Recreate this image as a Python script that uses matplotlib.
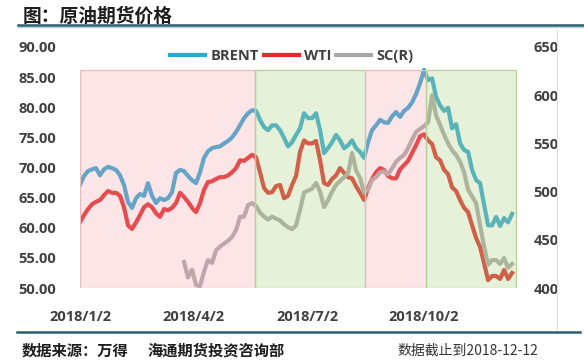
import numpy as np
import pandas as pd
import matplotlib
matplotlib.use("Agg")
import matplotlib.pyplot as plt
from matplotlib.lines import Line2D
from matplotlib.colors import to_rgba
from matplotlib.ticker import FuncFormatter

plt.rcParams['font.family'] = ['Open Sans', 'Noto Sans CJK SC', 'DejaVu Sans']
plt.rcParams['font.weight'] = 'bold'

# ---------------- data ----------------
start_date = "2018-01-02"
step_days = 3.177          # spacing of the sampled points
brent = [67.1, 68.6, 69.4, 69.7, 69.9, 68.7, 69.7, 70.1, 69.9, 69.6,
         68.7, 67.1, 64.3, 63.3, 64.9, 65.6, 65.3, 67.4, 65.3, 64.1,
         64.9, 64.6, 64.9, 65.9, 69.1, 69.6, 69.4, 68.6, 67.9, 67.4,
         69.2, 71.6, 72.7, 73.2, 73.4, 73.5, 74.0, 74.4, 75.0, 75.9,
         77.0, 78.2, 79.0, 79.5, 79.4, 77.9, 76.7, 76.2, 77.0, 77.0,
         76.2, 74.9, 73.5, 74.2, 75.4, 76.5, 79.0, 78.2, 78.2, 79.0,
         76.2, 72.4, 73.2, 74.2, 75.4, 74.5, 73.2, 73.7, 74.5, 73.2,
         72.6, 71.6, 74.2, 76.2, 77.0, 77.9, 77.5, 77.4, 78.5, 79.2,
         78.4, 79.4, 79.9, 80.8, 82.2, 84.0, 86.2, 84.5, 84.8, 81.7,
         80.3, 79.4, 79.9, 76.5, 77.2, 74.0, 72.9, 72.6, 69.6, 67.9,
         67.4, 63.8, 60.4, 60.4, 61.8, 60.3, 61.6, 60.9, 62.3]
wti = [60.9, 62.1, 63.1, 63.9, 64.3, 64.6, 65.4, 66.1, 65.8, 65.8,
       65.3, 63.4, 60.4, 59.8, 60.9, 62.1, 63.4, 63.9, 63.4, 62.4,
       61.8, 63.1, 62.9, 63.3, 64.1, 65.8, 65.1, 64.3, 63.3, 62.6,
       64.1, 66.3, 67.6, 67.7, 68.1, 68.4, 68.4, 68.7, 69.2, 69.9,
       71.2, 71.1, 71.6, 72.1, 71.7, 69.2, 66.6, 65.8, 65.9, 66.9,
       67.1, 64.9, 65.3, 67.1, 68.6, 72.6, 74.5, 74.0, 74.0, 74.4,
       71.2, 67.4, 67.1, 68.1, 68.7, 69.9, 69.1, 68.4, 68.2, 66.9,
       65.8, 64.6, 66.6, 68.1, 69.2, 69.9, 69.6, 68.6, 68.2, 68.2,
       69.7, 70.4, 71.1, 72.4, 73.7, 75.2, 75.5, 74.5, 73.9, 71.7,
       71.2, 69.6, 68.9, 66.7, 66.1, 64.6, 63.3, 62.6, 60.4, 58.3,
       56.8, 54.1, 51.3, 52.0, 52.0, 51.5, 53.0, 51.5, 52.5]
sc_first_index = 26
sc = [427, 411, 419, 403, 402, 417, 429, 426, 439, 443,
      446, 449, 453, 460, 474, 474, 486, 488, 485, 478,
      474, 471, 474, 472, 470, 466, 463, 461, 465, 481,
      499, 501, 503, 509, 500, 484, 491, 500, 507, 511,
      515, 519, 540, 522, 514, 499, 502, 512, 515, 520,
      521, 518, 524, 531, 535, 538, 545, 554, 562, 565,
      568, 572, 600, 579, 569, 559, 550, 543, 538, 531,
      520, 502, 495, 488, 465, 443, 424, 429, 429, 425,
      431, 421, 425]
series_names = ["BRENT", "WTI", "SC(R)"]
tick_dates = ["2018-01-02", "2018-04-02", "2018-07-02", "2018-10-02"]
tick_labels = ["2018/1/2", "2018/4/2", "2018/7/2", "2018/10/2"]
periods = [("2018-01-02", "2018-05-21", "pink"),
           ("2018-05-21", "2018-08-16", "green"),
           ("2018-08-16", "2018-10-04", "pink"),
           ("2018-10-04", "2018-12-14", "green")]
left_ticks = [50, 55, 60, 65, 70, 75, 80, 85, 90]
right_ticks = [400, 450, 500, 550, 600, 650]

# ---------------- styling ----------------
BLUE = "#2FA5D2"
RED = "#E02A2A"
GREY = "#ABA7A7"
TXT = "#404040"
DARK_LINE = "#2C5C70"
shade_face = {"pink": to_rgba("#F7A4AC", 0.28), "green": to_rgba("#AFD487", 0.32)}
shade_edge = {"pink": "#E6BDBD", "green": "#B7CF9A"}

t0 = pd.Timestamp(start_date)
dates = t0 + pd.to_timedelta(np.arange(len(brent)) * step_days, unit="D")
sc_dates = dates[sc_first_index:sc_first_index + len(sc)]

W, H = 584, 364
fig = plt.figure(figsize=(W / 100, H / 100), dpi=100)
ax = fig.add_axes([80 / W, (H - 288) / H, 437 / W, 241 / H])
ax2 = ax.twinx()

l1, = ax.plot(dates, brent, color=BLUE, lw=3.0, solid_joinstyle="round", zorder=2)
l2, = ax.plot(dates, wti, color=RED, lw=3.0, solid_joinstyle="round", zorder=2)
l3, = ax2.plot(sc_dates, sc, color=GREY, lw=3.0, solid_joinstyle="round", zorder=1)

for s, e, kind in periods:
    ax2.axvspan(pd.Timestamp(s), pd.Timestamp(e), ymin=0, ymax=0.905,
                facecolor=shade_face[kind], edgecolor=shade_edge[kind],
                lw=0.9, zorder=3)

ax.set_ylim(50, 90)
ax2.set_ylim(400, 650)
ax.set_xlim(t0, t0 + pd.Timedelta(days=347))
ax.set_yticks(left_ticks)
ax2.set_yticks(right_ticks)
ax.yaxis.set_major_formatter(FuncFormatter(lambda v, p: f"{v:.2f}"))
ax.set_xticks([pd.Timestamp(d) for d in tick_dates])
ax.set_xticklabels(tick_labels)

for a in (ax, ax2):
    for sp in a.spines.values():
        sp.set_visible(False)
ax.tick_params(axis="y", length=0, pad=17, labelsize=10.5, labelcolor=TXT)
ax2.tick_params(axis="y", length=0, pad=12, labelsize=10.5, labelcolor=TXT)
ax.tick_params(axis="x", length=0, pad=15.5, labelsize=10.5, labelcolor=TXT)

leg = ax2.legend([l1, l2, l3], series_names, ncol=3, frameon=False,
                 loc="center", bbox_to_anchor=(0.485, 0.962),
                 handlelength=2.4, handletextpad=0.35, columnspacing=0.35,
                 prop={"size": 10.5, "weight": "bold"})
for t in leg.get_texts():
    t.set_color(TXT)
leg.set_zorder(10)

# title, rules and footer
fig.text(23 / W, 1 - 16 / H, "图：原油期货价格", fontsize=13.5, fontweight="bold",
         color="#1E1E1E", va="center", ha="left", family=["Noto Sans CJK SC", "DejaVu Sans"])
fig.add_artist(Line2D([18 / W, 1.0], [1 - 25 / H] * 2, color=DARK_LINE, lw=1.8))
fig.add_artist(Line2D([18 / W, 1.0], [1 - 26.8 / H] * 2, color="#9FD3E6", lw=0.8))
fig.add_artist(Line2D([17 / W, 580 / W], [1 - 332 / H] * 2, color=DARK_LINE, lw=1.8))
fig.add_artist(Line2D([557 / W, 557 / W], [1 - 30 / H, 1 - 330 / H], color="#E0E0E0", lw=0.8))

fig.text(22 / W, 1 - 351 / H, "数据来源：万得", fontsize=11, fontweight="bold",
         color="#1E1E1E", va="center", ha="left", family=["Noto Sans CJK SC", "DejaVu Sans"])
fig.text(147 / W, 1 - 351 / H, "海通期货投资咨询部", fontsize=11, fontweight="bold",
         color="#1E1E1E", va="center", ha="left", family=["Noto Sans CJK SC", "DejaVu Sans"])
fig.text(397 / W, 1 - 351 / H, "数据截止到2018-12-12", fontsize=10, fontweight="normal",
         color="#333333", va="center", ha="left", family=["Noto Sans CJK SC", "DejaVu Sans"])

fig.savefig("out.png", dpi=100)
